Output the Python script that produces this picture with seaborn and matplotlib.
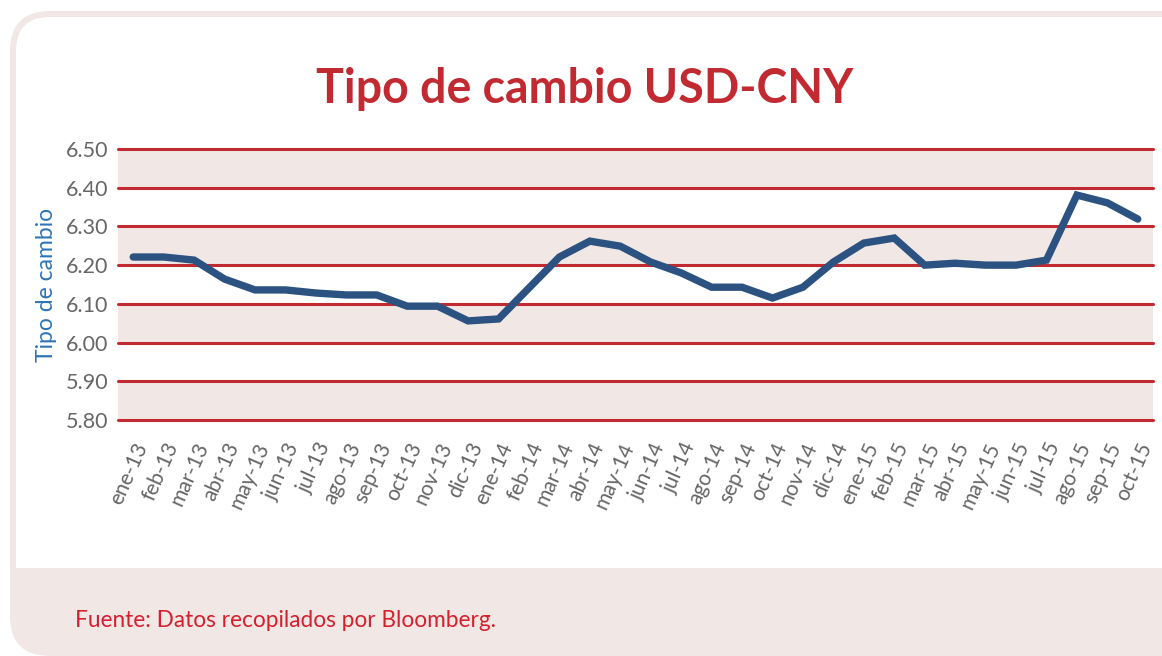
import numpy as np
import pandas as pd
import seaborn as sns
import matplotlib.pyplot as plt
from matplotlib.patches import FancyBboxPatch, Rectangle

# datos: tipo de cambio mensual USD-CNY
meses = ['ene-13', 'feb-13', 'mar-13', 'abr-13', 'may-13', 'jun-13', 'jul-13', 'ago-13',
         'sep-13', 'oct-13', 'nov-13', 'dic-13', 'ene-14', 'feb-14', 'mar-14', 'abr-14',
         'may-14', 'jun-14', 'jul-14', 'ago-14', 'sep-14', 'oct-14', 'nov-14', 'dic-14',
         'ene-15', 'feb-15', 'mar-15', 'abr-15', 'may-15', 'jun-15', 'jul-15', 'ago-15',
         'sep-15', 'oct-15']
tipo_cambio = [6.221, 6.221, 6.213, 6.164, 6.136, 6.136, 6.128, 6.123,
               6.123, 6.094, 6.094, 6.056, 6.061, 6.141, 6.221, 6.262,
               6.249, 6.208, 6.180, 6.143, 6.143, 6.115, 6.143, 6.208,
               6.257, 6.270, 6.200, 6.205, 6.200, 6.200, 6.213, 6.381,
               6.361, 6.319]
y_ticks = [5.80, 5.90, 6.00, 6.10, 6.20, 6.30, 6.40, 6.50]

df = pd.DataFrame({'mes': np.arange(len(meses)), 'valor': tipo_cambio})

ROJO = '#c22a31'
AZUL = '#2b5280'
ROSA = '#f1e8e5'
GRIS = '#666666'

sns.set_style('white')
plt.rcParams['font.family'] = ['Lato', 'DejaVu Sans']

fig = plt.figure(figsize=(11.62, 6.56), dpi=100)

# tarjeta de fondo con bordes redondeados (coordenadas en pixeles)
fig.add_artist(FancyBboxPatch((10, 0), 1200, 645, boxstyle='round,pad=0,rounding_size=40',
                              facecolor=ROSA, edgecolor='none', transform=None, zorder=0))
fig.add_artist(FancyBboxPatch((16, 40), 1200, 599, boxstyle='round,pad=0,rounding_size=34',
                              facecolor='white', edgecolor='none', transform=None, zorder=0))
fig.add_artist(Rectangle((16, 30), 1200, 58, facecolor=ROSA, edgecolor='none',
                         transform=None, zorder=0))

ax = fig.add_axes([118 / 1162, 236 / 656, 1035 / 1162, 271 / 656])
ax.set_facecolor('white')

# bandas alternas
for i in range(0, len(y_ticks) - 1, 2):
    ax.axhspan(y_ticks[i], y_ticks[i + 1], color=ROSA, lw=0, zorder=0)
for y in y_ticks:
    ax.axhline(y, color=ROJO, lw=2.2, zorder=1, clip_on=False)

sns.lineplot(data=df, x='mes', y='valor', color=AZUL, lw=5.3, ax=ax, zorder=3,
             solid_joinstyle='miter')

ax.set_xlim(-0.5, len(meses) - 0.5)
ax.set_ylim(5.80, 6.50)
ax.set_yticks(y_ticks)
ax.set_yticklabels([f'{v:.2f}' for v in y_ticks])
ax.set_xticks(np.arange(len(meses)))
ax.set_xticklabels(meses, rotation=66, ha='right', rotation_mode='anchor')
ax.set_xticks(np.arange(len(meses) + 1) - 0.5, minor=True)
ax.tick_params(axis='x', which='major', length=0, pad=14, labelsize=15, labelcolor=GRIS)
ax.tick_params(axis='x', which='minor', length=6, width=2.2, color=ROJO, direction='out')
ax.tick_params(axis='y', length=0, pad=7, labelsize=15.5, labelcolor=GRIS)
ax.set_xlabel('')
ax.set_ylabel('Tipo de cambio', color='#2e75b6', fontsize=16.5, labelpad=6)
for s in ax.spines.values():
    s.set_visible(False)

fig.text(0.503, 553 / 656, 'Tipo de cambio USD-CNY', ha='center', va='baseline',
         color=ROJO, fontsize=33.5, fontweight='bold')
fig.text(75 / 1162, 29 / 656, 'Fuente: Datos recopilados por Bloomberg.', ha='left',
         va='baseline', color='#d4202f', fontsize=16.3)

fig.savefig('out.png', dpi=100)
